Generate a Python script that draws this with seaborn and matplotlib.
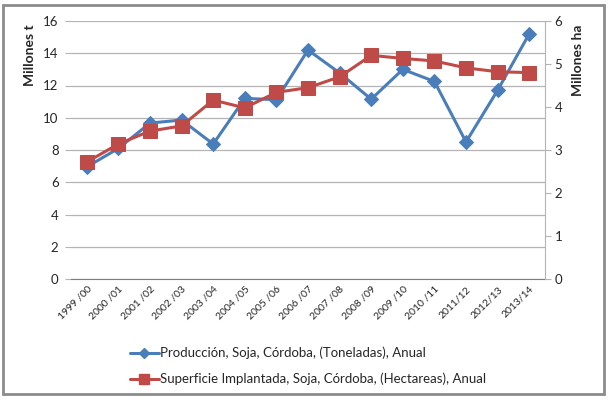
import pandas as pd
import matplotlib.pyplot as plt
import seaborn as sns
from matplotlib.patches import Rectangle
from matplotlib.lines import Line2D

# Campaign labels and values
campanias = ['1999 /00', '2000 /01', '2001 /02', '2002 /03', '2003 /04', '2004 /05',
             '2005 /06', '2006 /07', '2007 /08', '2008 /09', '2009 /10', '2010 /11',
             '2011/12', '2012/13', '2013/14']
produccion = [6.95, 8.1, 9.67, 9.86, 8.37, 11.2, 11.12, 14.2, 12.78, 11.15,
              13.0, 12.25, 8.5, 11.7, 15.2]  # millones t
superficie = [2.72, 3.14, 3.44, 3.56, 4.16, 3.98, 4.34, 4.45, 4.7, 5.2,
              5.13, 5.07, 4.91, 4.82, 4.8]  # millones ha

lab_prod = 'Producción, Soja, Córdoba, (Toneladas), Anual'
lab_sup = 'Superficie Implantada, Soja, Córdoba, (Hectareas), Anual'

blue = '#4A7EBB'
red = '#BE4B48'

sns.set_style('white')
plt.rcParams['font.family'] = ['Lato', 'DejaVu Sans']

df = pd.DataFrame({'campania': campanias, 'prod': produccion, 'sup': superficie})

fig = plt.figure(figsize=(6.09, 3.99), dpi=100)
ax = fig.add_axes([71 / 609, 1 - 279 / 399, (545 - 71) / 609, (279 - 21) / 399])
ax2 = ax.twinx()

# production on the left axis, area on the right axis (drawn on top)
sns.lineplot(data=df, x='campania', y='prod', ax=ax, sort=False, color=blue,
             linewidth=2.2, marker='D', markersize=7, markeredgecolor=blue, zorder=3)
sns.lineplot(data=df, x='campania', y='sup', ax=ax2, sort=False, color=red,
             linewidth=2.2, marker='s', markersize=10, markeredgecolor=red, zorder=3)

ax.set_xlim(-0.5, len(campanias) - 0.5)
ax.set_ylim(0, 16)
ax.set_yticks(range(0, 17, 2))
ax2.set_ylim(0, 6)
ax2.set_yticks(range(0, 7))
ax.grid(axis='y', color='#B4B4B4', linewidth=0.9)
ax.set_axisbelow(True)
ax.set_xlabel('')
ax.set_ylabel('')
ax2.set_ylabel('')

for a in (ax, ax2):
    for s in ('top', 'left', 'right'):
        a.spines[s].set_visible(False)
    a.spines['bottom'].set_color('#7F7F7F')
ax2.spines['right'].set_visible(True)
ax2.spines['right'].set_color('#B4B4B4')
ax2.spines['bottom'].set_visible(False)

ax.tick_params(axis='y', length=4, color='#B4B4B4', labelsize=9.5, pad=5, left=True)
ax2.tick_params(axis='y', length=4, color='#B4B4B4', labelsize=9.5, pad=3, right=True)
ax.tick_params(axis='x', length=0, labelsize=7.5, pad=4)
ax.set_xticks(range(len(campanias)))
ax.set_xticklabels(campanias, rotation=45, ha='right', rotation_mode='anchor')

fig.text(30 / 609, 1 - 55 / 399, 'Millones t', rotation=90, fontsize=10,
         fontweight='bold', ha='center', va='center')
fig.text(578 / 609, 1 - 60 / 399, 'Millones ha', rotation=90, fontsize=10,
         fontweight='bold', ha='center', va='center')

handles = [Line2D([], [], color=blue, lw=2.2, marker='D', markersize=5),
           Line2D([], [], color=red, lw=2.2, marker='s', markersize=7)]
fig.legend(handles, [lab_prod, lab_sup], loc='upper left',
           bbox_to_anchor=(118 / 609, 1 - 335 / 399), frameon=False,
           fontsize=9.5, labelspacing=1.0, handlelength=2.2, handletextpad=0.1)

fig.patches.append(Rectangle((3 / 609, 5 / 399), 601 / 609, 389 / 399,
                             transform=fig.transFigure, fill=False,
                             edgecolor='#8C8C8C', linewidth=2))

plt.savefig('out.png', dpi=100)
